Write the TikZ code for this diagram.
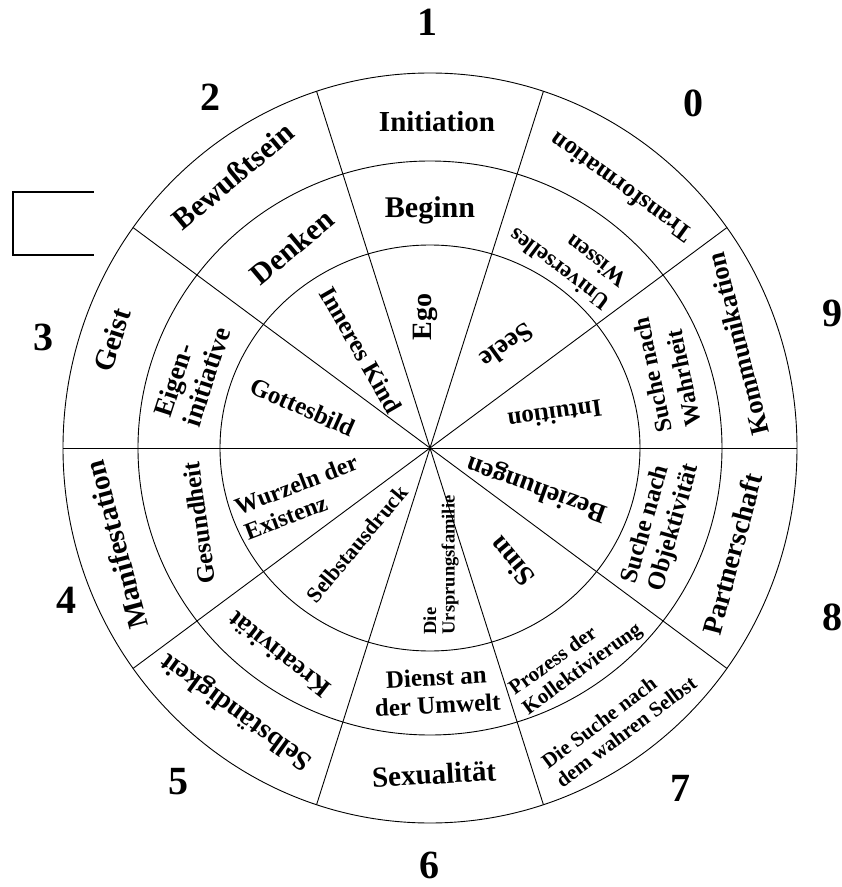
\documentclass[tikz,border=0pt]{standalone}
\usepackage{fontspec}
\setmainfont{Liberation Serif}
\usetikzlibrary{positioning}
\newcommand\wheelsize[1]{\fontsize{#1pt}{\dimexpr#1pt*112/100\relax}\selectfont}

\begin{document}
\begin{tikzpicture}
[x=1pt,y=1pt,
ring/.style={line width=0.9pt},
spoke/.style={line width=0.9pt},
num/.style={inner sep=0pt,font=\bfseries\fontsize{40}{44}\selectfont},
lbl/.style={inner sep=0pt,align=left,font=\bfseries\wheelsize{#1}},
lbl/.default=28]

\useasboundingbox (-430,-439) rectangle (412,448);

\coordinate (c) at (0,0);

% the three rings
\draw[ring] (c) ellipse [x radius=367pt, y radius=375pt];
\draw[ring] (c) ellipse [x radius=292pt, y radius=287pt];
\draw[ring] (c) ellipse [x radius=210pt, y radius=203pt];

% spokes
\foreach \a in {0,36,...,324}
  \draw[spoke] (c) -- (\a:367pt and 375pt);

% bracket on the left
\coordinate (b1) at (-336,256);
\coordinate (b2) at (-417,256);
\coordinate (b3) at (-417,193);
\coordinate (b4) at (-336,193);
\draw[line width=1.6pt] (b1) -- (b2) -- (b3) -- (b4);

% numbers
\node[num] (n1) at (-2,426) {1};
\node[num] (n2) at (-219,351) {2};
\node[num] (n0) at (263,345) {0};
\node[num] (n3) at (-386,111) {3};
\node[num] (n9) at (402,135) {9};
\node[num] (n4) at (-363,-152) {4};
\node[num] (n8) at (402,-169) {8};
\node[num] (n5) at (-251,-334) {5};
\node[num] (n7) at (250,-340) {7};
\node[num] (n6) at (0,-417) {6};

% outer ring
\node[lbl=29] (initiation) at (7,326) {Initiation};
\node[lbl=25,rotate=144] (transformation) at (191,260) {Transformation};
\node[lbl=26.5,rotate=104] (kommunikation) at (308,104) {Kommunikation};
\node[lbl=28,rotate=75] (partnerschaft) at (302,-106) {Partnerschaft};
\node[lbl=21,rotate=37] (wahrenselbst) at (189,-274) {Die Suche nach\\dem wahren Selbst};
\node[lbl=29,rotate=3] (sexualitaet) at (4,-326) {Sexualität};
\node[lbl=27.5,rotate=144] (selbstaendigkeit) at (-193,-263) {Selbständigkeit};
\node[lbl=29,rotate=105] (manifestation) at (-314,-97) {Manifestation};
\node[lbl=29,rotate=72] (geist) at (-318,108) {Geist};
\node[lbl=30,rotate=40] (bewusstsein) at (-197,272) {Bewußtsein};

% middle ring
\node[lbl=30] (beginn) at (0,238) {Beginn};
\node[lbl=23,rotate=143] (wissen) at (138,190) {Universelles\\[3pt]Wissen};
\node[lbl=24,rotate=102] (wahrheit) at (237,76) {Suche nach\\[3pt]Wahrheit};
\node[lbl=25,rotate=74] (objektiv) at (231,-76) {Suche nach\\Objektivität};
\node[lbl=21,rotate=36] (kollektiv) at (146,-212) {Prozess der\\Kollektivierung};
\node[lbl=25,rotate=3,align=center] (umwelt) at (7,-243) {Dienst an\\der Umwelt};
\node[lbl=26,rotate=142] (kreativ) at (-151,-207) {Kreativität};
\node[lbl=25,rotate=98] (gesundheit) at (-231,-75) {Gesundheit};
\node[lbl=27,rotate=72] (eigen) at (-238,76) {Eigen-\\initiative};
\node[lbl=30,rotate=40] (denken) at (-138,201) {Denken};

% inner ring
\node[lbl=28,rotate=90] (ego) at (-5,131) {Ego};
\node[lbl=25,rotate=-60] (kind) at (-69,98) {Inneres Kind};
\node[lbl=25,rotate=-24] (gottesbild) at (-127,41) {Gottesbild};
\node[lbl=27,rotate=216] (seele) at (77,102) {Seele};
\node[lbl=25,rotate=188] (intuition) at (125,33) {Intuition};
\node[lbl=27,rotate=160] (beziehungen) at (107,-40) {Beziehungen};
\node[lbl=28,rotate=130] (sinn) at (82,-114) {Sinn};
\node[lbl=18.5,rotate=90] (familie) at (11,-117) {Die\\[-2pt]Ursprungsfamilie};
\node[lbl=22,rotate=50] (ausdruck) at (-73,-96) {Selbstausdruck};
\node[lbl=24,rotate=21] (wurzeln) at (-129,-49) {Wurzeln der\\Existenz};

\end{tikzpicture}
\end{document}
